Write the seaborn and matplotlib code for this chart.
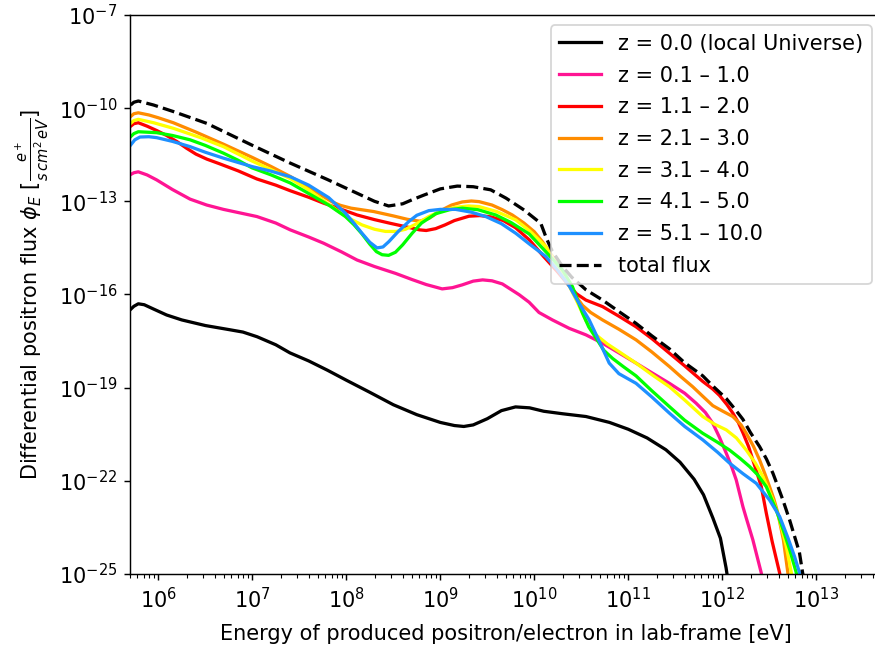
import numpy as np
import pandas as pd
import matplotlib
matplotlib.use("Agg")
import matplotlib.pyplot as plt
from matplotlib.ticker import NullLocator, LogLocator
import seaborn as sns

# log10 of energy [eV] and log10 of differential flux for each redshift bin
z0_log_e = [5.698, 5.74, 5.787, 5.85, 5.95, 6.088, 6.25, 6.5, 6.75, 6.9, 7.05, 7.25,
            7.4, 7.6, 7.8, 8.0, 8.25, 8.5, 8.75, 9.0, 9.15, 9.25, 9.35, 9.5, 9.65,
            9.8, 9.95, 10.1, 10.3, 10.55, 10.8, 11.0, 11.2, 11.4, 11.55, 11.7, 11.8,
            11.9, 11.98, 12.04, 12.08]
z0_log_f = [-16.50, -16.38, -16.30, -16.33, -16.47, -16.66, -16.82, -17.00, -17.13,
            -17.21, -17.36, -17.62, -17.88, -18.14, -18.44, -18.76, -19.15, -19.55,
            -19.87, -20.12, -20.22, -20.25, -20.20, -20.00, -19.74, -19.62, -19.65,
            -19.76, -19.84, -19.93, -20.12, -20.34, -20.62, -21.00, -21.40, -21.95,
            -22.45, -23.20, -23.85, -24.80, -25.6]

z1_log_e = [5.698, 5.74, 5.787, 5.88, 5.982, 6.15, 6.338, 6.515, 6.693, 7.048, 7.25,
            7.404, 7.6, 7.759, 7.95, 8.114, 8.3, 8.523, 8.7, 8.85, 9.02, 9.13, 9.234,
            9.35, 9.45, 9.55, 9.66, 9.84, 9.945, 10.05, 10.193, 10.371, 10.549,
            10.726, 10.9, 11.082, 11.25, 11.437, 11.6, 11.721, 11.82, 11.899, 11.97,
            12.042, 12.1, 12.148, 12.219, 12.255, 12.325, 12.415, 12.44]
z1_log_f = [-12.15, -12.08, -12.05, -12.15, -12.31, -12.62, -12.93, -13.12, -13.26,
            -13.49, -13.70, -13.92, -14.15, -14.35, -14.63, -14.89, -15.10, -15.32,
            -15.52, -15.68, -15.82, -15.78, -15.69, -15.57, -15.53, -15.56, -15.66,
            -16.01, -16.25, -16.58, -16.82, -17.09, -17.30, -17.57, -17.88, -18.21,
            -18.52, -18.86, -19.18, -19.50, -19.80, -20.15, -20.60, -21.11, -21.55,
            -21.97, -22.83, -23.20, -23.90, -24.97, -25.6]

z2_log_e = [5.698, 5.74, 5.787, 5.88, 5.982, 6.088, 6.2, 6.30, 6.4, 6.515, 6.65, 6.85,
            7.048, 7.25, 7.404, 7.6, 7.759, 7.95, 8.114, 8.3, 8.470, 8.65, 8.78, 8.85,
            8.95, 9.05, 9.15, 9.305, 9.42, 9.536, 9.67, 9.80, 9.95, 10.10, 10.25,
            10.371, 10.45, 10.549, 10.726, 10.9, 11.082, 11.25, 11.437, 11.6, 11.792,
            11.9, 11.97, 12.05, 12.112, 12.17, 12.219, 12.28, 12.325, 12.37, 12.415,
            12.468, 12.53, 12.61, 12.64]
z2_log_f = [-10.60, -10.50, -10.47, -10.58, -10.72, -10.88, -11.08, -11.29, -11.48,
            -11.64, -11.79, -12.02, -12.28, -12.48, -12.66, -12.87, -13.06, -13.26,
            -13.44, -13.59, -13.71, -13.83, -13.92, -13.94, -13.88, -13.76, -13.62,
            -13.48, -13.46, -13.50, -13.62, -13.85, -14.25, -14.78, -15.28, -15.72,
            -15.98, -16.18, -16.39, -16.70, -17.04, -17.42, -17.89, -18.30, -18.80,
            -19.05, -19.25, -19.55, -19.82, -20.12, -20.45, -20.90, -21.33, -21.75,
            -22.19, -23.04, -23.95, -24.97, -25.6]

z3_log_e = [5.705, 5.74, 5.787, 5.9, 6.0, 6.160, 6.4, 6.7, 6.995, 7.2, 7.404, 7.6,
            7.759, 7.85, 7.937, 8.05, 8.292, 8.5, 8.65, 8.78, 8.88, 9.003, 9.12, 9.234,
            9.33, 9.412, 9.55, 9.66, 9.766, 9.89, 10.0, 10.086, 10.2, 10.3, 10.371,
            10.44, 10.513, 10.6, 10.726, 10.9, 11.082, 11.25, 11.437, 11.56, 11.685,
            11.8, 11.899, 12.0, 12.112, 12.2, 12.255, 12.33, 12.397, 12.45, 12.503,
            12.55, 12.591, 12.65, 12.698, 12.72]
z3_log_f = [-10.27, -10.18, -10.15, -10.22, -10.31, -10.47, -10.77, -11.17, -11.58,
            -11.88, -12.20, -12.55, -12.85, -13.02, -13.13, -13.22, -13.33, -13.47,
            -13.58, -13.64, -13.55, -13.30, -13.12, -13.02, -12.99, -13.01, -13.12,
            -13.27, -13.44, -13.70, -13.98, -14.30, -14.80, -15.30, -15.70, -16.05,
            -16.35, -16.58, -16.82, -17.12, -17.46, -17.85, -18.32, -18.65, -18.97,
            -19.30, -19.58, -19.75, -19.93, -20.20, -20.47, -20.88, -21.33, -21.75,
            -22.19, -22.60, -23.04, -23.90, -24.97, -25.6]

z4_log_e = [5.705, 5.74, 5.787, 5.95, 6.160, 6.45, 6.693, 6.995, 7.2, 7.404, 7.6, 7.812,
            8.0, 8.167, 8.3, 8.417, 8.53, 8.63, 8.75, 8.878, 9.0, 9.163, 9.3, 9.412,
            9.6, 9.803, 9.95, 10.123, 10.25, 10.371, 10.442, 10.55, 10.656, 10.78,
            10.90, 11.082, 11.25, 11.437, 11.6, 11.792, 11.92, 12.042, 12.15, 12.255,
            12.35, 12.432, 12.539, 12.610, 12.68, 12.735, 12.76]
z4_log_f = [-10.49, -10.40, -10.36, -10.47, -10.65, -10.95, -11.24, -11.70, -11.98,
            -12.27, -12.63, -13.10, -13.50, -13.76, -13.90, -13.97, -13.97, -13.90,
            -13.72, -13.49, -13.32, -13.19, -13.15, -13.17, -13.33, -13.60, -13.95,
            -14.46, -15.10, -15.72, -16.15, -16.85, -17.30, -17.60, -17.84, -18.21,
            -18.58, -18.97, -19.40, -19.93, -20.18, -20.36, -20.62, -21.01, -21.42,
            -21.86, -22.62, -23.26, -24.10, -24.97, -25.6]

z5_log_e = [5.705, 5.74, 5.787, 5.982, 6.15, 6.338, 6.5, 6.693, 6.85, 6.995, 7.2, 7.404,
            7.6, 7.812, 7.990, 8.08, 8.167, 8.25, 8.32, 8.381, 8.45, 8.523, 8.6, 8.700,
            8.8, 8.950, 9.1, 9.234, 9.4, 9.590, 9.75, 9.945, 10.1, 10.300, 10.406,
            10.513, 10.58, 10.656, 10.74, 10.833, 10.95, 11.082, 11.25, 11.437, 11.6,
            11.792, 11.95, 12.077, 12.19, 12.290, 12.38, 12.468, 12.574, 12.65, 12.72,
            12.788, 12.82]
z5_log_f = [-10.92, -10.82, -10.76, -10.79, -10.88, -11.02, -11.20, -11.45, -11.68,
            -11.92, -12.15, -12.41, -12.75, -13.12, -13.49, -13.75, -14.05, -14.38,
            -14.62, -14.72, -14.74, -14.64, -14.40, -14.03, -13.70, -13.40, -13.27,
            -13.22, -13.27, -13.44, -13.68, -14.05, -14.55, -15.21, -15.75, -16.60,
            -17.05, -17.40, -17.80, -18.06, -18.33, -18.62, -19.10, -19.61, -20.05,
            -20.47, -20.76, -21.01, -21.28, -21.54, -21.82, -22.19, -22.94, -23.60,
            -24.25, -24.97, -25.6]

z6_log_e = [5.705, 5.75, 5.805, 5.9, 5.982, 6.15, 6.338, 6.5, 6.693, 6.85, 6.995, 7.2,
            7.404, 7.6, 7.812, 7.990, 8.08, 8.167, 8.25, 8.327, 8.39, 8.452, 8.55,
            8.665, 8.75, 8.878, 9.0, 9.163, 9.33, 9.483, 9.65, 9.803, 9.95, 10.123,
            10.25, 10.371, 10.45, 10.52, 10.584, 10.69, 10.797, 10.9, 11.082, 11.25,
            11.437, 11.6, 11.792, 11.95, 12.077, 12.22, 12.361, 12.503, 12.610, 12.70,
            12.77, 12.823, 12.85]
z6_log_f = [-11.19, -11.02, -10.93, -10.92, -10.95, -11.07, -11.24, -11.42, -11.61,
            -11.75, -11.88, -12.03, -12.21, -12.48, -12.88, -13.38, -13.70, -14.03,
            -14.32, -14.50, -14.47, -14.30, -13.98, -13.65, -13.45, -13.30, -13.26,
            -13.26, -13.35, -13.49, -13.72, -14.03, -14.38, -14.78, -15.22, -15.72,
            -16.15, -16.50, -16.82, -17.50, -18.21, -18.55, -18.86, -19.30, -19.82,
            -20.25, -20.68, -21.08, -21.43, -21.77, -22.08, -22.62, -23.15, -23.85,
            -24.45, -24.97, -25.6]

total_log_e = [5.705, 5.74, 5.787, 5.95, 6.160, 6.515, 6.995, 7.404, 7.8, 8.114, 8.3,
               8.45, 8.6, 8.7, 8.825, 9.0, 9.18, 9.35, 9.536, 9.7, 9.891, 10.069, 10.13,
               10.19, 10.30, 10.40, 10.48, 10.55, 10.726, 10.9, 11.082, 11.25, 11.437,
               11.6, 11.792, 11.9, 12.042, 12.15, 12.219, 12.3, 12.397, 12.47, 12.539,
               12.6, 12.645, 12.716, 12.77, 12.82, 12.855, 12.90]
total_log_f = [-9.90, -9.81, -9.77, -9.90, -10.11, -10.49, -11.19, -11.77, -12.30,
               -12.74, -13.00, -13.15, -13.08, -12.95, -12.80, -12.60, -12.51, -12.53,
               -12.63, -12.90, -13.28, -13.71, -14.20, -14.60, -15.10, -15.45, -15.66,
               -15.85, -16.18, -16.55, -16.93, -17.33, -17.75, -18.20, -18.62, -18.95,
               -19.35, -19.75, -20.02, -20.45, -20.90, -21.30, -21.76, -22.25, -22.62,
               -23.26, -23.80, -24.30, -24.97, -25.6]

labels = ["z = 0.0 (local Universe)", "z = 0.1 \u2013 1.0", "z = 1.1 \u2013 2.0",
          "z = 2.1 \u2013 3.0", "z = 3.1 \u2013 4.0", "z = 4.1 \u2013 5.0",
          "z = 5.1 \u2013 10.0"]
colors = ["#000000", "#FF1493", "#FF0000", "#FF8C00", "#FFFF00", "#00FF00", "#1E90FF"]

x_decades = list(range(6, 14))
y_decades = list(range(-25, -6, 3))

series = [(z0_log_e, z0_log_f), (z1_log_e, z1_log_f), (z2_log_e, z2_log_f),
          (z3_log_e, z3_log_f), (z4_log_e, z4_log_f), (z5_log_e, z5_log_f),
          (z6_log_e, z6_log_f)]

plt.rcParams["font.size"] = 11.6

dpi = 130
fig = plt.figure(figsize=(875 / dpi, 651 / dpi), dpi=dpi)
# the axes run slightly past the right edge of the canvas
ax = fig.add_axes([0.1486, 0.1183, 0.8594, 0.8587])
ax.set_xscale("log")
ax.set_yscale("log")

for (le, lf), lab, col in zip(series, labels, colors):
    df = pd.DataFrame({"E": 10.0 ** np.array(le), "flux": 10.0 ** np.array(lf)})
    sns.lineplot(data=df, x="E", y="flux", color=col, lw=1.8, label=lab,
                 ax=ax, sort=False, estimator=None)

df_tot = pd.DataFrame({"E": 10.0 ** np.array(total_log_e),
                       "flux": 10.0 ** np.array(total_log_f)})
sns.lineplot(data=df_tot, x="E", y="flux", color="black", lw=1.8, ls="--",
             label="total flux", ax=ax, sort=False, estimator=None)

ax.set_xlim(5e5, 5e13)
ax.set_ylim(1e-25, 1e-7)
ax.set_xticks([10.0 ** k for k in x_decades])
ax.set_yticks([10.0 ** k for k in y_decades])
ax.yaxis.set_minor_locator(NullLocator())
ax.xaxis.set_minor_locator(LogLocator(base=10, subs=np.arange(2, 10), numticks=100))

ax.set_xlabel("Energy of produced positron/electron in lab-frame [eV]", labelpad=7)
ax.set_ylabel(r"Differential positron flux $\phi_E$ $[\frac{e^+}{s\,cm^2\,eV}]$")

ax.legend(loc="upper right", labelspacing=0.56)

fig.savefig("out.png", dpi=dpi)
